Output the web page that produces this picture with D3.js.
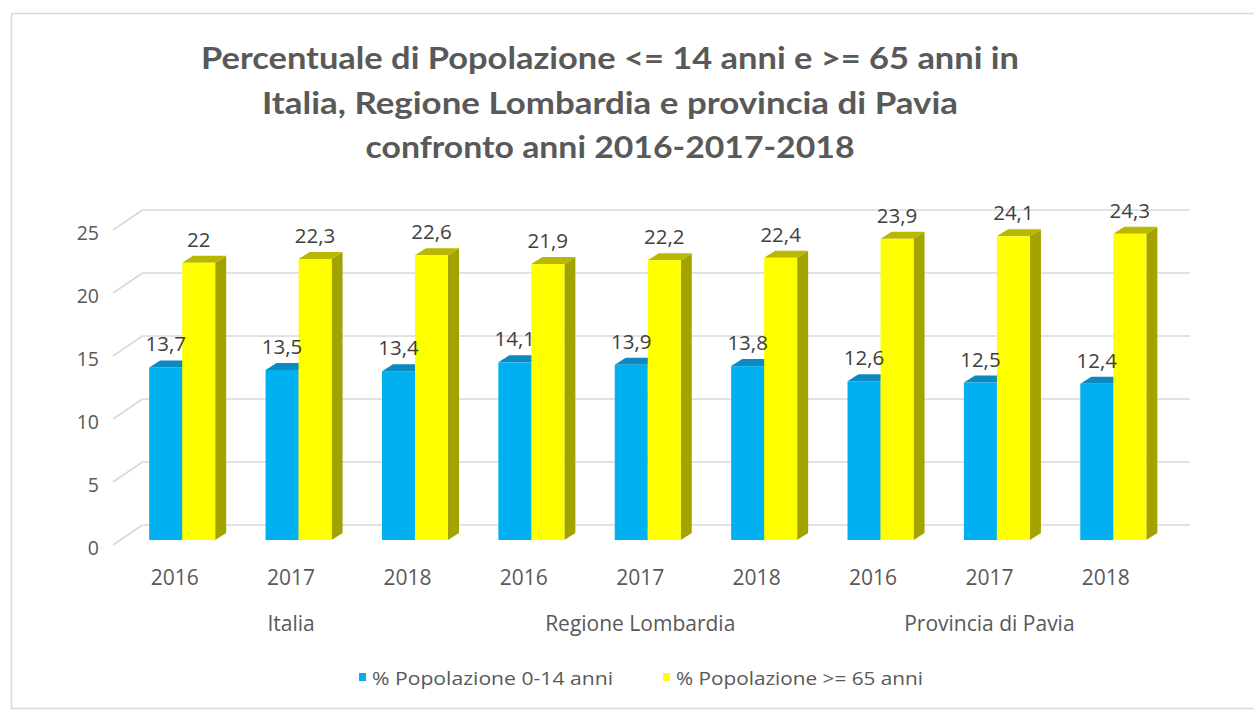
<!DOCTYPE html>
<html>
<head>
<meta charset="utf-8">
<script src="https://cdn.jsdelivr.net/npm/d3@7"></script>
<style>
  html, body { margin: 0; padding: 0; background: #ffffff; }
  svg { display: block; }
</style>
</head>
<body>
<svg id="chart" width="1254" height="713"></svg>
<script>
// ---- data ----
const years = ["2016", "2017", "2018", "2016", "2017", "2018", "2016", "2017", "2018"];
const groups = ["Italia", "Regione Lombardia", "Provincia di Pavia"];
const seriesNames = ["% Popolazione 0-14 anni", "% Popolazione >= 65 anni"];
const young = [13.7, 13.5, 13.4, 14.1, 13.9, 13.8, 12.6, 12.5, 12.4];
const old = [22, 22.3, 22.6, 21.9, 22.2, 22.4, 23.9, 24.1, 24.3];
const yTicks = [0, 5, 10, 15, 20, 25];
const titleLines = [
  "Percentuale di Popolazione <= 14 anni e >= 65 anni in",
  "Italia, Regione Lombardia e provincia di Pavia",
  "confronto anni 2016-2017-2018"
];

// ---- styling / layout ----
const colors = {
  young: { front: "#00B0F0", top: "#0A8AC0", side: "#0077A8" },
  old:   { front: "#FFFF00", top: "#B8B800", side: "#A3A300" }
};
const textGray = "#595959";
const labelGray = "#404040";
const gridColor = "#D9D9D9";

const svg = d3.select("#chart");
const fmt = d3.formatLocale({ decimal: ",", thousands: ".", grouping: [3], currency: ["", "€"] }).format(".1~f");

// oblique projection: front plane of the floor, bars plane, back wall
const frontX0 = 113, frontX1 = 1160.5, frontZeroY = 545;
const wallDx = 29.5, wallDy = -20;        // depth of the whole plot box
const barDx = 11, barDy = -5;             // bar front face offset into depth
const sideDx = 11, sideDy = -7;           // bar depth

const h = d3.scaleLinear().domain([0, 25]).range([0, 315]);

const x = d3.scaleBand().domain(d3.range(years.length)).range([frontX0, frontX1]).padding(0);
const bw = x.bandwidth();
const xs = d3.scaleBand().domain(seriesNames).range([bw / 2 - 33, bw / 2 + 33]).padding(0);

// ---- border ----
svg.append("rect")
  .attr("x", 11.5).attr("y", 13.5).attr("width", 1260).attr("height", 695)
  .attr("fill", "none").attr("stroke", gridColor).attr("stroke-width", 1.5);

// ---- title ----
const titleWidths = [818, 696, 489];
const titleBase = [69, 113.5, 158];
svg.append("g").selectAll("text").data(titleLines).join("text")
  .attr("x", 610).attr("y", (d, i) => titleBase[i])
  .attr("text-anchor", "middle")
  .attr("font-family", "Lato, 'Open Sans', sans-serif")
  .attr("font-weight", "bold")
  .attr("font-size", 30.5)
  .attr("fill", textGray)
  .attr("textLength", (d, i) => titleWidths[i])
  .attr("lengthAdjust", "spacingAndGlyphs")
  .text(d => d);

// ---- walls / gridlines ----
const grid = svg.append("g").attr("stroke", gridColor).attr("stroke-width", 1.6).attr("fill", "none");
yTicks.forEach(v => {
  const yf = frontZeroY - h(v);
  const yb = yf + wallDy;
  grid.append("line")
    .attr("x1", frontX0).attr("y1", yf)
    .attr("x2", frontX0 + wallDx).attr("y2", yb);
  grid.append("line")
    .attr("x1", frontX0 + wallDx).attr("y1", yb)
    .attr("x2", frontX1 + wallDx).attr("y2", yb);
});

// ---- y tick labels ----
svg.append("g").selectAll("text").data(yTicks).join("text")
  .attr("x", 99).attr("y", d => frontZeroY - h(d) + 2)
  .attr("text-anchor", "end")
  .attr("dominant-baseline", "central")
  .attr("font-family", "'Open Sans', sans-serif")
  .attr("font-size", 19.5)
  .attr("fill", textGray)
  .text(d => d);

// ---- bars ----
const rows = years.map((y, i) => ({ i, year: y, young: young[i], old: old[i] }));
const barZeroY = frontZeroY + barDy;

function drawBar(g, x0, w, v, pal) {
  const top = barZeroY - h(v);
  const bottom = barZeroY;
  // side face
  g.append("path")
    .attr("d", `M${x0 + w},${bottom} L${x0 + w + sideDx},${bottom + sideDy} L${x0 + w + sideDx},${top + sideDy} L${x0 + w},${top} Z`)
    .attr("fill", pal.side);
  // top face
  g.append("path")
    .attr("d", `M${x0},${top} L${x0 + sideDx},${top + sideDy} L${x0 + w + sideDx},${top + sideDy} L${x0 + w},${top} Z`)
    .attr("fill", pal.top);
  // front face
  g.append("rect")
    .attr("x", x0).attr("y", top).attr("width", w).attr("height", bottom - top)
    .attr("fill", pal.front);
}

const barsG = svg.append("g");
rows.forEach(r => {
  const base = x(r.i) + barDx;
  const g = barsG.append("g");
  drawBar(g, base + xs(seriesNames[0]), xs.bandwidth(), r.young, colors.young);
  drawBar(g, base + xs(seriesNames[1]), xs.bandwidth(), r.old, colors.old);
});

// ---- data labels ----
const labelsG = svg.append("g")
  .attr("font-family", "'Open Sans', sans-serif")
  .attr("font-size", 20.5)
  .attr("fill", labelGray)
  .attr("text-anchor", "middle");
rows.forEach(r => {
  [["young", 0], ["old", 1]].forEach(([key, s]) => {
    const cx = x(r.i) + barDx + xs(seriesNames[s]) + xs.bandwidth() / 2;
    labelsG.append("text")
      .attr("x", cx)
      .attr("y", barZeroY - h(r[key]) - 24)
      .attr("dominant-baseline", "central")
      .text(fmt(r[key]));
  });
});

// ---- category axis labels ----
svg.append("g").selectAll("text").data(rows).join("text")
  .attr("x", d => x(d.i) + bw / 2 + 3.5)
  .attr("y", 577)
  .attr("text-anchor", "middle")
  .attr("dominant-baseline", "central")
  .attr("font-family", "'Open Sans', sans-serif")
  .attr("font-size", 21)
  .attr("fill", textGray)
  .text(d => d.year);

svg.append("g").selectAll("text").data(groups).join("text")
  .attr("x", (d, gi) => x(gi * 3 + 1) + bw / 2 + 3.5)
  .attr("y", 623)
  .attr("text-anchor", "middle")
  .attr("dominant-baseline", "central")
  .attr("font-family", "'Open Sans', sans-serif")
  .attr("font-size", 21)
  .attr("fill", textGray)
  .text(d => d);

// ---- legend ----
const legendItems = [
  { name: seriesNames[0], color: colors.young.front, x: 359, w: 241 },
  { name: seriesNames[1], color: colors.old.front, x: 663, w: 247 }
];
const lg = svg.append("g");
legendItems.forEach(it => {
  lg.append("rect").attr("x", it.x).attr("y", 673).attr("width", 7).attr("height", 8).attr("fill", it.color);
  lg.append("text")
    .attr("x", it.x + 13).attr("y", 678)
    .attr("dominant-baseline", "central")
    .attr("font-family", "'Open Sans', sans-serif")
    .attr("font-size", 19)
    .attr("fill", textGray)
    .attr("textLength", it.w)
    .attr("lengthAdjust", "spacingAndGlyphs")
    .text(it.name);
});
</script>
</body>
</html>
